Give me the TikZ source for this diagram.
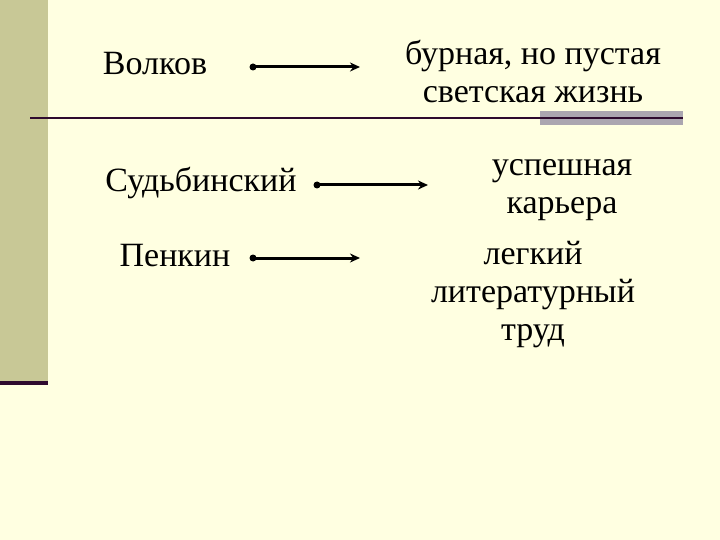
\documentclass[tikz,border=0pt]{standalone}
\usepackage{fontspec}
\setmainfont{Liberation Serif}
\usetikzlibrary{arrows.meta}
\definecolor{bg}{HTML}{FFFFE1}
\definecolor{strip}{HTML}{C8C896}
\definecolor{bar}{HTML}{ABA6B0}
\definecolor{dp}{HTML}{2E0A2E}
\begin{document}
\begin{tikzpicture}[x=1pt,y=-1pt,
  lbl/.style={font=\fontsize{34}{38}\selectfont, inner sep=0pt, align=center, text=black},
  arr/.style={line width=3pt,-{Stealth[length=10pt,width=9pt]}},
  dotc/.style={circle,fill=black,inner sep=0pt,minimum size=7pt}]
\fill[bg] (0,0) rectangle (720,540);
\useasboundingbox (0,0) rectangle (720,540);
\fill[strip] (0,0) rectangle (48,382);
\fill[dp] (0,381) rectangle (48,385);
\fill[bar] (540,111) rectangle (683,125);
\fill[dp] (30,117) rectangle (683,119.5);
\node[lbl] (v) at (155,64) {Волков};
\node[lbl] (s) at (201,183) {Судьбинский};
\node[lbl] (p) at (175,256) {Пенкин};
\node[lbl] (r1) at (533,71) {бурная, но пустая\\светская жизнь};
\node[lbl] (r2) at (562,190) {успешная\\карьера};
\node[lbl] (r3) at (533,295) {легкий\\литературный\\труд};
\node[dotc] (d1) at (253,67) {};
\node[dotc] (d2) at (317,185) {};
\node[dotc] (d3) at (253,258) {};
\coordinate (e1) at (360,67);
\coordinate (e2) at (428,185);
\coordinate (e3) at (360,258);
\draw[arr] (d1.center) -- (e1);
\draw[arr] (d2.center) -- (e2);
\draw[arr] (d3.center) -- (e3);
\end{tikzpicture}
\end{document}
